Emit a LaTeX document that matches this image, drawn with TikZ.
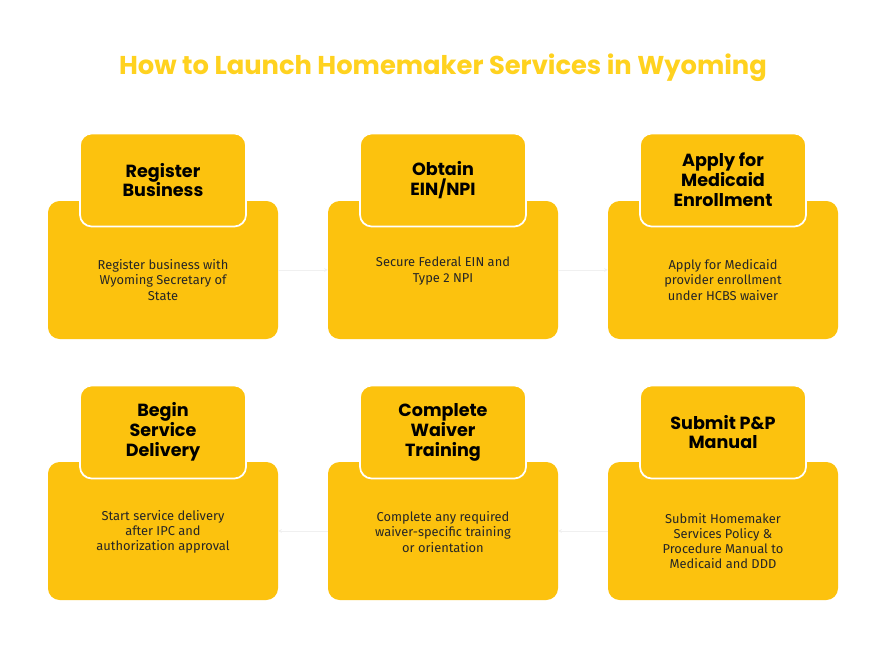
\documentclass[tikz,border=0pt]{standalone}
\usepackage{fontspec}
\setmainfont{Fira Sans}
\newfontfamily\headfont{Poppins}
\usetikzlibrary{positioning}
\tikzset{>=stealth}
\definecolor{cardColor}{HTML}{FCC20E}
\definecolor{titleColor}{HTML}{FFD21F}
\colorlet{faintColor}{gray!12}
\tikzset{
  card/.style={fill=cardColor, rounded corners=10pt, minimum width=230*0.03cm, minimum height=138*0.03cm},
  tab/.style={fill=cardColor, draw=white, line width=1.5pt, rounded corners=10pt, minimum width=166*0.03cm, minimum height=93*0.03cm, align=center, font=\headfont\bfseries\fontsize{15}{17}\selectfont, text=black},
  body/.style={align=center, font=\fontsize{11}{13}\selectfont, text=black!85}
}
\begin{document}
\begin{tikzpicture}[x=0.03cm,y=-0.03cm]
\useasboundingbox[fill=white] (0,0) rectangle (887,672);
\node[font=\headfont\bfseries\fontsize{22}{26}\selectfont, text=titleColor] (title) at (443,68) {How to Launch Homemaker Services in Wyoming};
% top row
\node[card] (c1) at (163,270) {};
\node[card] (c2) at (443,270) {};
\node[card] (c3) at (723,270) {};
% bottom row
\node[card] (c4) at (163,531) {};
\node[card] (c5) at (443,531) {};
\node[card] (c6) at (723,531) {};
\node[tab] (t1) at (163,180) {Register\\Business};
\node[tab] (t2) at (443,180) {Obtain\\EIN/NPI};
\node[tab] (t3) at (723,180) {Apply for\\Medicaid\\Enrollment};
\node[tab] (t4) at (163,432) {Begin\\Service\\Delivery};
\node[tab] (t5) at (443,432) {Complete\\Waiver\\Training};
\node[tab] (t6) at (723,432) {Submit P\&P\\Manual};
\node[body] (b1) at (163,280) {Register business with\\Wyoming Secretary of\\State};
\node[body] (b2) at (443,271) {Secure Federal EIN and\\Type 2 NPI};
\node[body] (b3) at (723,280) {Apply for Medicaid\\provider enrollment\\under HCBS waiver};
\node[body] (b4) at (163,532) {Start service delivery\\after IPC and\\authorization approval};
\node[body] (b5) at (443,532) {Complete any required\\waiver-specific training\\or orientation};
\node[body] (b6) at (723,541) {Submit Homemaker\\Services Policy \&\\Procedure Manual to\\Medicaid and DDD};
% faint connectors
\draw[->, faintColor, thin] (c1) -- (c2);
\draw[->, faintColor, thin] (c2) -- (c3);
\draw[->, faintColor, thin] (c6) -- (c5);
\draw[->, faintColor, thin] (c5) -- (c4);
\end{tikzpicture}
\end{document}
